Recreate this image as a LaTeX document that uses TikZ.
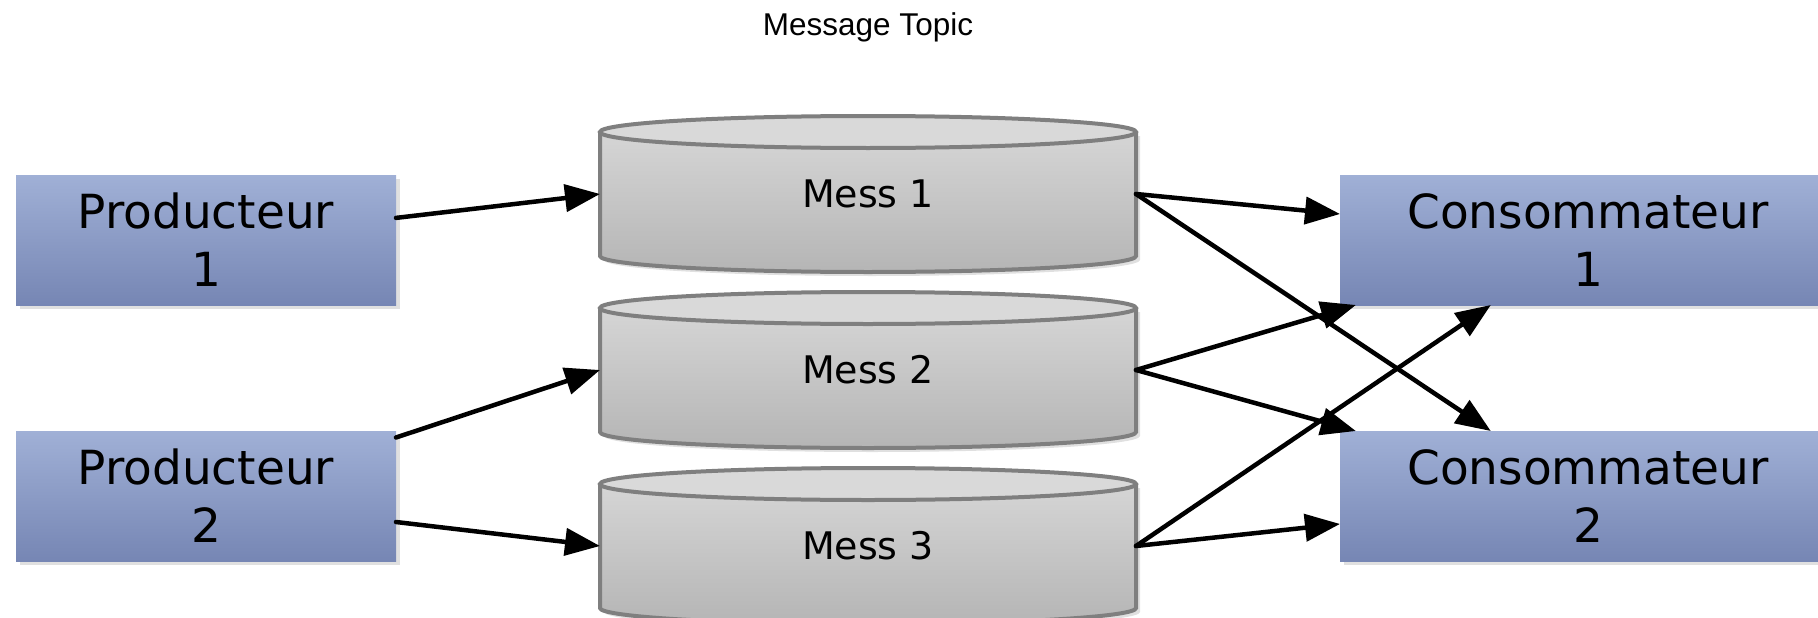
\documentclass[tikz,border=0pt]{standalone}
\usepackage{fontspec}
\setmainfont{DejaVu Sans}
\newfontfamily\titlefont{Liberation Sans}
\usetikzlibrary{arrows.meta,calc,shadows}

\definecolor{boxtop}{HTML}{A0B0D6}
\definecolor{boxbot}{HTML}{7686B4}
\definecolor{cyltop}{HTML}{D9D9D9}
\definecolor{cylbot}{HTML}{B5B5B5}
\definecolor{cylline}{HTML}{7F7F7F}

\begin{document}
\begin{tikzpicture}[x=1pt,y=-1pt,
  actor/.style={rectangle, inner sep=0pt, outer sep=0pt, minimum height=130pt,
    top color=boxtop, bottom color=boxbot, align=center,
    font=\fontsize{47}{58}\selectfont,
    drop shadow={shadow xshift=4pt, shadow yshift=-4pt, fill=black, opacity=0.12}},
  body/.style={rectangle, inner sep=0pt, outer sep=0pt, minimum width=536pt,
    minimum height=124pt, font=\fontsize{38}{46}\selectfont},
  link/.style={line width=4.5pt, line cap=round, -{Triangle[length=35pt,width=27pt]}},
  drumline/.style={draw=cylline, line width=4pt}
]
\useasboundingbox (0,0) rectangle (1818,618);
\clip (0,0) rectangle (1818,618);

% title
\node[font=\titlefont\fontsize{31.5}{36}\selectfont] (title) at (868,27) {Message Topic};

% message stores drawn as cylinders
\foreach \c/\n/\t in {194/m1/Mess 1, 370/m2/Mess 2, 546/m3/Mess 3}{
  % soft shadow
  \fill[black, opacity=0.12] (604,\c-58) -- (604,\c+66)
    arc[start angle=180, end angle=0, x radius=268, y radius=16]
    -- (1140,\c-58) -- cycle;
  % body
  \path[top color=cyltop, bottom color=cylbot] (600,\c-62) -- (600,\c+62)
    arc[start angle=180, end angle=0, x radius=268, y radius=16]
    -- (1136,\c-62)
    arc[start angle=0, end angle=-180, x radius=268, y radius=16] -- cycle;
  \draw[drumline] (600,\c-62) -- (600,\c+62)
    arc[start angle=180, end angle=0, x radius=268, y radius=16]
    -- (1136,\c-62);
  \draw[drumline, fill=cyltop] (868,\c-62) ellipse[x radius=268, y radius=16];
  \node[body] (\n) at (868,\c) {\t};
}

% producers and consumers
\node[actor, minimum width=380pt] (P1) at (206,240) {Producteur\\1};
\node[actor, minimum width=380pt] (P2) at (206,496) {Producteur\\2};
\node[actor, minimum width=496pt] (C1) at (1588,240) {Consommateur\\1};
\node[actor, minimum width=496pt] (C2) at (1588,496) {Consommateur\\2};

% producers to stores
\draw[link] ($(P1.north east)!0.33!(P1.south east)$) -- (m1.west);
\draw[link] ($(P2.north east)!0.05!(P2.south east)$) -- (m2.west);
\draw[link] ($(P2.north east)!0.70!(P2.south east)$) -- (m3.west);

% stores to consumers
\draw[link] (m1.east) -- ($(C1.north west)!0.30!(C1.south west)$);
\draw[link] (m1.east) -- ($(C2.north west)!0.304!(C2.north east)$);
\draw[link] (m2.east) -- ($(C1.south west)!0.032!(C1.south east)$);
\draw[link] (m2.east) -- ($(C2.north west)!0.032!(C2.north east)$);
\draw[link] (m3.east) -- ($(C1.south west)!0.304!(C1.south east)$);
\draw[link] (m3.east) -- ($(C2.north west)!0.715!(C2.south west)$);
\end{tikzpicture}
\end{document}
